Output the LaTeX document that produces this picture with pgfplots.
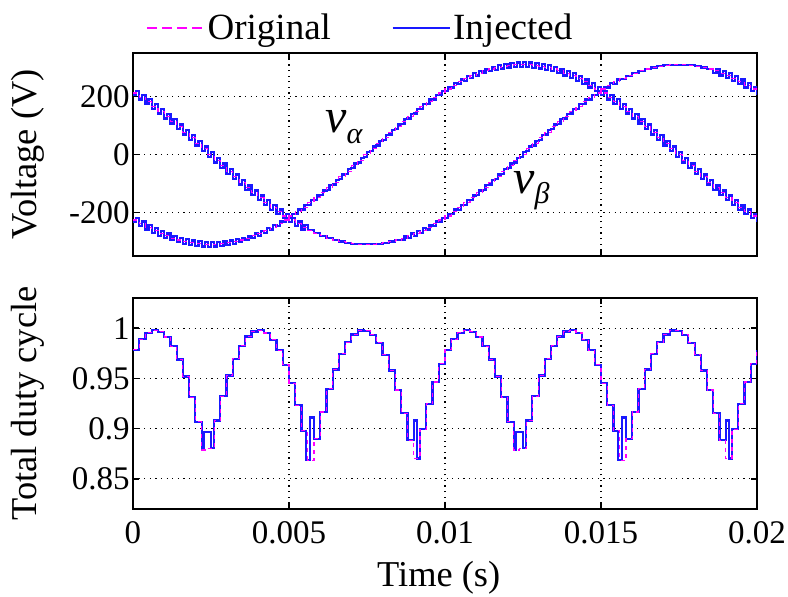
\documentclass[border=0pt]{standalone}
\usepackage{fontspec}
\setmainfont{Liberation Serif}
\usepackage{pgfplots}
\usepackage{pgfplotstable}
\pgfplotsset{compat=1.18}

\definecolor{injblue}{RGB}{25,25,255}
\definecolor{origmag}{RGB}{255,0,255}

% original (sampled) voltages, 0.2 ms steps
\pgfplotstableread{
t va vb
0 -226.0 212.2
0.0002 -238.9 197.6
0.0004 -250.8 182.2
0.0006 -261.7 166.1
0.0008 -271.7 149.3
0.0010 -280.5 132.0
0.0012 -288.2 114.1
0.0014 -294.8 95.8
0.0016 -300.3 77.1
0.0018 -304.5 58.1
0.0020 -307.6 38.9
0.0022 -309.4 19.5
0.0024 -310.0 0
0.0026 -309.4 -19.5
0.0028 -307.6 -38.9
0.0030 -304.5 -58.1
0.0032 -300.3 -77.1
0.0034 -294.8 -95.8
0.0036 -288.2 -114.1
0.0038 -280.5 -132.0
0.0040 -271.7 -149.3
0.0042 -261.7 -166.1
0.0044 -250.8 -182.2
0.0046 -238.9 -197.6
0.0048 -226.0 -212.2
0.0050 -212.2 -226.0
0.0052 -197.6 -238.9
0.0054 -182.2 -250.8
0.0056 -166.1 -261.7
0.0058 -149.3 -271.7
0.0060 -132.0 -280.5
0.0062 -114.1 -288.2
0.0064 -95.8 -294.8
0.0066 -77.1 -300.3
0.0068 -58.1 -304.5
0.0070 -38.9 -307.6
0.0072 -19.5 -309.4
0.0074 0 -310.0
0.0076 19.5 -309.4
0.0078 38.9 -307.6
0.0080 58.1 -304.5
0.0082 77.1 -300.3
0.0084 95.8 -294.8
0.0086 114.1 -288.2
0.0088 132.0 -280.5
0.0090 149.3 -271.7
0.0092 166.1 -261.7
0.0094 182.2 -250.8
0.0096 197.6 -238.9
0.0098 212.2 -226.0
0.0100 226.0 -212.2
0.0102 238.9 -197.6
0.0104 250.8 -182.2
0.0106 261.7 -166.1
0.0108 271.7 -149.3
0.0110 280.5 -132.0
0.0112 288.2 -114.1
0.0114 294.8 -95.8
0.0116 300.3 -77.1
0.0118 304.5 -58.1
0.0120 307.6 -38.9
0.0122 309.4 -19.5
0.0124 310.0 0
0.0126 309.4 19.5
0.0128 307.6 38.9
0.0130 304.5 58.1
0.0132 300.3 77.1
0.0134 294.8 95.8
0.0136 288.2 114.1
0.0138 280.5 132.0
0.0140 271.7 149.3
0.0142 261.7 166.1
0.0144 250.8 182.2
0.0146 238.9 197.6
0.0148 226.0 212.2
0.0150 212.2 226.0
0.0152 197.6 238.9
0.0154 182.2 250.8
0.0156 166.1 261.7
0.0158 149.3 271.7
0.0160 132.0 280.5
0.0162 114.1 288.2
0.0164 95.8 294.8
0.0166 77.1 300.3
0.0168 58.1 304.5
0.0170 38.9 307.6
0.0172 19.5 309.4
0.0174 0 310.0
0.0176 -19.5 309.4
0.0178 -38.9 307.6
0.0180 -58.1 304.5
0.0182 -77.1 300.3
0.0184 -95.8 294.8
0.0186 -114.1 288.2
0.0188 -132.0 280.5
0.0190 -149.3 271.7
0.0192 -166.1 261.7
0.0194 -182.2 250.8
0.0196 -197.6 238.9
0.0198 -212.2 226.0
0.0200 -226.0 212.2
}\vorig

% injected voltages, with the ripple inside each step
\pgfplotstableread{
t va vb
0 -234.0 204.2
0.0001 -218.0 220.2
0.0002 -246.9 189.6
0.0003 -230.9 205.6
0.0004 -258.8 174.2
0.0005 -242.8 190.2
0.0006 -269.7 158.1
0.0007 -253.7 174.1
0.0008 -279.7 141.3
0.0009 -263.7 157.3
0.0010 -288.5 124.0
0.0011 -272.5 140.0
0.0012 -296.2 106.1
0.0013 -280.2 122.1
0.0014 -302.8 87.8
0.0015 -286.8 103.8
0.0016 -308.3 69.1
0.0017 -292.3 85.1
0.0018 -312.5 50.1
0.0019 -296.5 66.1
0.0020 -315.6 30.9
0.0021 -299.6 46.9
0.0022 -317.4 11.5
0.0023 -301.4 27.5
0.0024 -318.0 -8.0
0.0025 -302.0 8.0
0.0026 -317.4 -27.5
0.0027 -301.4 -11.5
0.0028 -315.6 -46.9
0.0029 -299.6 -30.9
0.0030 -312.5 -66.1
0.0031 -296.5 -50.1
0.0032 -308.3 -85.1
0.0033 -292.3 -69.1
0.0034 -302.8 -103.8
0.0035 -286.8 -87.8
0.0036 -296.2 -122.1
0.0037 -280.2 -106.1
0.0038 -288.5 -140.0
0.0039 -272.5 -124.0
0.0040 -279.7 -157.3
0.0041 -263.7 -141.3
0.0042 -269.7 -174.1
0.0043 -253.7 -158.1
0.0044 -258.8 -190.2
0.0045 -242.8 -174.2
0.0046 -246.9 -205.6
0.0047 -230.9 -189.6
0.0048 -234.0 -220.2
0.0049 -218.0 -204.2
0.0050 -220.2 -234.0
0.0051 -204.2 -218.0
0.0052 -205.6 -246.9
0.0053 -189.6 -230.9
0.0054 -190.2 -258.8
0.0055 -174.2 -242.8
0.0056 -174.1 -261.7
0.0057 -158.1 -261.7
0.0058 -157.3 -271.7
0.0059 -141.3 -271.7
0.0060 -140.0 -280.5
0.0061 -124.0 -280.5
0.0062 -122.1 -288.2
0.0063 -106.1 -288.2
0.0064 -103.8 -294.8
0.0065 -87.8 -294.8
0.0066 -85.1 -300.3
0.0067 -69.1 -300.3
0.0068 -66.1 -304.5
0.0069 -50.1 -304.5
0.0070 -46.9 -307.6
0.0071 -30.9 -307.6
0.0072 -27.5 -309.4
0.0073 -11.5 -309.4
0.0074 -8.0 -310.0
0.0075 8.0 -310.0
0.0076 11.5 -309.4
0.0077 27.5 -309.4
0.0078 30.9 -307.6
0.0079 46.9 -307.6
0.0080 50.1 -304.5
0.0081 66.1 -304.5
0.0082 69.1 -300.3
0.0083 85.1 -300.3
0.0084 87.8 -294.8
0.0085 103.8 -294.8
0.0086 106.1 -296.2
0.0087 122.1 -280.2
0.0088 124.0 -288.5
0.0089 140.0 -272.5
0.0090 141.3 -279.7
0.0091 157.3 -263.7
0.0092 158.1 -269.7
0.0093 174.1 -253.7
0.0094 174.2 -258.8
0.0095 190.2 -242.8
0.0096 189.6 -246.9
0.0097 205.6 -230.9
0.0098 204.2 -234.0
0.0099 220.2 -218.0
0.0100 218.0 -220.2
0.0101 234.0 -204.2
0.0102 230.9 -205.6
0.0103 246.9 -189.6
0.0104 242.8 -190.2
0.0105 258.8 -174.2
0.0106 253.7 -174.1
0.0107 269.7 -158.1
0.0108 263.7 -157.3
0.0109 279.7 -141.3
0.0110 272.5 -140.0
0.0111 288.5 -124.0
0.0112 280.2 -122.1
0.0113 296.2 -106.1
0.0114 286.8 -103.8
0.0115 302.8 -87.8
0.0116 292.3 -85.1
0.0117 308.3 -69.1
0.0118 296.5 -66.1
0.0119 312.5 -50.1
0.0120 299.6 -46.9
0.0121 315.6 -30.9
0.0122 301.4 -27.5
0.0123 317.4 -11.5
0.0124 302.0 -8.0
0.0125 318.0 8.0
0.0126 301.4 11.5
0.0127 317.4 27.5
0.0128 299.6 30.9
0.0129 315.6 46.9
0.0130 296.5 50.1
0.0131 312.5 66.1
0.0132 292.3 69.1
0.0133 308.3 85.1
0.0134 286.8 87.8
0.0135 302.8 103.8
0.0136 280.2 106.1
0.0137 296.2 122.1
0.0138 272.5 124.0
0.0139 288.5 140.0
0.0140 263.7 141.3
0.0141 279.7 157.3
0.0142 253.7 158.1
0.0143 269.7 174.1
0.0144 242.8 174.2
0.0145 258.8 190.2
0.0146 230.9 189.6
0.0147 246.9 205.6
0.0148 218.0 204.2
0.0149 234.0 220.2
0.0150 204.2 218.0
0.0151 220.2 234.0
0.0152 189.6 230.9
0.0153 205.6 246.9
0.0154 174.2 242.8
0.0155 190.2 258.8
0.0156 158.1 261.7
0.0157 174.1 261.7
0.0158 141.3 271.7
0.0159 157.3 271.7
0.0160 124.0 280.5
0.0161 140.0 280.5
0.0162 106.1 288.2
0.0163 122.1 288.2
0.0164 87.8 294.8
0.0165 103.8 294.8
0.0166 69.1 300.3
0.0167 85.1 300.3
0.0168 50.1 304.5
0.0169 66.1 304.5
0.0170 30.9 307.6
0.0171 46.9 307.6
0.0172 11.5 309.4
0.0173 27.5 309.4
0.0174 -8.0 310.0
0.0175 8.0 310.0
0.0176 -27.5 309.4
0.0177 -11.5 309.4
0.0178 -46.9 307.6
0.0179 -30.9 307.6
0.0180 -66.1 304.5
0.0181 -50.1 304.5
0.0182 -85.1 300.3
0.0183 -69.1 300.3
0.0184 -103.8 294.8
0.0185 -87.8 294.8
0.0186 -122.1 280.2
0.0187 -106.1 296.2
0.0188 -140.0 272.5
0.0189 -124.0 288.5
0.0190 -157.3 263.7
0.0191 -141.3 279.7
0.0192 -174.1 253.7
0.0193 -158.1 269.7
0.0194 -190.2 242.8
0.0195 -174.2 258.8
0.0196 -205.6 230.9
0.0197 -189.6 246.9
0.0198 -220.2 218.0
0.0199 -204.2 234.0
0.0200 -234.0 204.2
}\vinj

% total duty cycle, original
\pgfplotstableread{
t d
0 0.9786
0.0002 0.9890
0.0004 0.9954
0.0006 0.9980
0.0008 0.9965
0.0010 0.9912
0.0012 0.9819
0.0014 0.9688
0.0016 0.9518
0.0018 0.9311
0.0020 0.9067
0.0022 0.8787
0.0024 0.8804
0.0026 0.9081
0.0028 0.9323
0.0030 0.9529
0.0032 0.9696
0.0034 0.9825
0.0036 0.9916
0.0038 0.9967
0.0040 0.9979
0.0042 0.9952
0.0044 0.9885
0.0046 0.9780
0.0048 0.9636
0.0050 0.9453
0.0052 0.9234
0.0054 0.8978
0.0056 0.8686
0.0058 0.8900
0.0060 0.9166
0.0062 0.9396
0.0064 0.9589
0.0066 0.9744
0.0068 0.9860
0.0070 0.9937
0.0072 0.9976
0.0074 0.9975
0.0076 0.9934
0.0078 0.9854
0.0080 0.9736
0.0082 0.9579
0.0084 0.9384
0.0086 0.9152
0.0088 0.8884
0.0090 0.8703
0.0092 0.8993
0.0094 0.9247
0.0096 0.9464
0.0098 0.9645
0.0100 0.9786
0.0102 0.9890
0.0104 0.9954
0.0106 0.9980
0.0108 0.9965
0.0110 0.9912
0.0112 0.9819
0.0114 0.9688
0.0116 0.9518
0.0118 0.9311
0.0120 0.9067
0.0122 0.8787
0.0124 0.8804
0.0126 0.9081
0.0128 0.9323
0.0130 0.9529
0.0132 0.9696
0.0134 0.9825
0.0136 0.9916
0.0138 0.9967
0.0140 0.9979
0.0142 0.9952
0.0144 0.9885
0.0146 0.9780
0.0148 0.9636
0.0150 0.9453
0.0152 0.9234
0.0154 0.8978
0.0156 0.8686
0.0158 0.8900
0.0160 0.9166
0.0162 0.9396
0.0164 0.9589
0.0166 0.9744
0.0168 0.9860
0.0170 0.9937
0.0172 0.9976
0.0174 0.9975
0.0176 0.9934
0.0178 0.9854
0.0180 0.9736
0.0182 0.9579
0.0184 0.9384
0.0186 0.9152
0.0188 0.8884
0.0190 0.8703
0.0192 0.8993
0.0194 0.9247
0.0196 0.9464
0.0198 0.9645
0.0200 0.9786
}\dorig

% total duty cycle, injected (differs around the cusps)
\pgfplotstableread{
t d
0 0.9786
0.0002 0.9890
0.0004 0.9954
0.0006 0.9980
0.0008 0.9965
0.0010 0.9912
0.0012 0.9819
0.0014 0.9688
0.0016 0.9518
0.0018 0.9311
0.0020 0.9067
0.0022 0.8787
0.00227 0.8970
0.00249 0.8804
0.0026 0.9081
0.0028 0.9323
0.0030 0.9529
0.0032 0.9696
0.0034 0.9825
0.0036 0.9916
0.0038 0.9967
0.0040 0.9979
0.0042 0.9952
0.0044 0.9885
0.0046 0.9780
0.0048 0.9636
0.0050 0.9453
0.0052 0.9234
0.0054 0.8978
0.00555 0.8686
0.00567 0.9110
0.0058 0.8900
0.0060 0.9166
0.0062 0.9396
0.0064 0.9589
0.0066 0.9744
0.0068 0.9860
0.0070 0.9937
0.0072 0.9976
0.0074 0.9975
0.0076 0.9934
0.0078 0.9854
0.0080 0.9736
0.0082 0.9579
0.0084 0.9384
0.0086 0.9152
0.0088 0.8884
0.00901 0.9080
0.00909 0.8703
0.0092 0.8993
0.0094 0.9247
0.0096 0.9464
0.0098 0.9645
0.0100 0.9786
0.0102 0.9890
0.0104 0.9954
0.0106 0.9980
0.0108 0.9965
0.0110 0.9912
0.0112 0.9819
0.0114 0.9688
0.0116 0.9518
0.0118 0.9311
0.0120 0.9067
0.0122 0.8787
0.01227 0.8970
0.01249 0.8804
0.0126 0.9081
0.0128 0.9323
0.0130 0.9529
0.0132 0.9696
0.0134 0.9825
0.0136 0.9916
0.0138 0.9967
0.0140 0.9979
0.0142 0.9952
0.0144 0.9885
0.0146 0.9780
0.0148 0.9636
0.0150 0.9453
0.0152 0.9234
0.0154 0.8978
0.01555 0.8686
0.01567 0.9110
0.0158 0.8900
0.0160 0.9166
0.0162 0.9396
0.0164 0.9589
0.0166 0.9744
0.0168 0.9860
0.0170 0.9937
0.0172 0.9976
0.0174 0.9975
0.0176 0.9934
0.0178 0.9854
0.0180 0.9736
0.0182 0.9579
0.0184 0.9384
0.0186 0.9152
0.0188 0.8884
0.01901 0.9080
0.01909 0.8703
0.0192 0.8993
0.0194 0.9247
0.0196 0.9464
0.0198 0.9645
0.0200 0.9786
}\dinj

\pgfplotsset{
  panel/.style={
    scale only axis, width=312pt,
    xmin=0, xmax=0.02,
    xtick={0,0.005,0.01,0.015,0.02},
    scaled ticks=false,
    axis line style={line width=1.2pt},
    tick align=inside, tick pos=both,
    major tick length=3pt,
    tick style={line width=0.8pt, black},
    xmajorgrids, ymajorgrids,
    major grid style={black, line width=0.6pt, dash pattern=on 0.6pt off 2.2pt},
    ticklabel style={font=\fontsize{16.5}{18}\selectfont},
    label style={font=\fontsize{18.2}{20}\selectfont},
    ylabel style={at={(axis description cs:-0.1683,0.5)}, anchor=center},
    yticklabel style={inner sep=1.5pt},
    xticklabel style={inner sep=6pt},
  },
  inj/.style={const plot, color=injblue, line width=1.1pt},
  org/.style={const plot, color=origmag, line width=0.55pt, dash pattern=on 2pt off 2pt},
}

\begin{document}
\begin{tikzpicture}
\begin{axis}[panel,
  at={(66.5pt,-26.5pt)}, anchor=north west,
  height=101.5pt,
  ymin=-350, ymax=350,
  ytick={-200,0,200}, yticklabels={-200,0,200},
  xticklabels={},
  ylabel={Voltage (V)},
  legend columns=2,
  legend style={draw=none, fill=none,
    at={(axis description cs:0.3646,1)}, anchor=center, yshift=12.5pt,
    font=\fontsize{18.5}{20}\selectfont,
    nodes={inner sep=1.2pt},
    /tikz/every even column/.append style={column sep=29pt}},
  legend image code/.code={\draw[#1] (0pt,0pt) -- (28.5pt,0pt);},
]
  \addlegendimage{origmag, line width=1pt, dash pattern=on 5pt off 2.5pt}
  \addlegendentry{Original}
  \addlegendimage{injblue, line width=1.2pt}
  \addlegendentry{Injected}

  \addplot[inj, forget plot] table[x=t, y=va] {\vinj};
  \addplot[inj, forget plot] table[x=t, y=vb] {\vinj};
  \addplot[org, forget plot] table[x=t, y=va] {\vorig};
  \addplot[org, forget plot] table[x=t, y=vb] {\vorig};

  \node[anchor=base west, inner sep=0, font=\fontsize{24}{26}\selectfont\itshape]
    at (axis cs:0.00615,76) {v\raisebox{-5.5pt}{\fontsize{15}{15}\selectfont α}};
  \node[anchor=base west, inner sep=0, font=\fontsize{24}{26}\selectfont\itshape]
    at (axis cs:0.01218,-136) {v\raisebox{-5pt}{\fontsize{15}{15}\selectfont β}};
\end{axis}

\begin{axis}[panel,
  at={(66.5pt,-149pt)}, anchor=north west,
  height=105.5pt,
  ymin=0.82, ymax=1.03,
  ytick={0.85,0.9,0.95,1}, yticklabels={0.85,0.9,0.95,1},
  xticklabels={0,0.005,0.01,0.015,0.02},
  ylabel={Total duty cycle},
  xlabel={Time (s)},
  xlabel style={at={(axis description cs:0.49,-0.327)}, anchor=center},
]
  \addplot[inj] table[x=t, y=d] {\dinj};
  \addplot[org] table[x=t, y=d] {\dorig};
\end{axis}

\pgfresetboundingbox
\path (0,0) rectangle (394pt,-298pt);
\end{tikzpicture}
\end{document}
